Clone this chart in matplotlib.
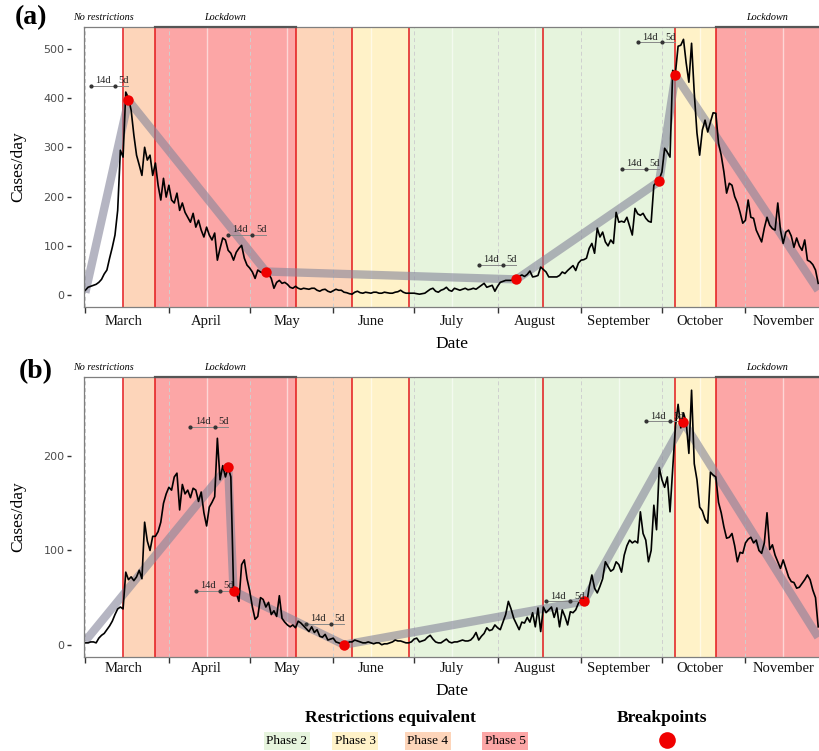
import numpy as np
import pandas as pd
import matplotlib
matplotlib.use('Agg')
import matplotlib.pyplot as plt
import matplotlib.dates as mdates
import matplotlib.transforms as mtrans

# ---------------- data ----------------
start_date = '2020-03-01'

a_cases = [
    10, 16, 18, 20, 22, 26, 32, 43, 51, 75, 97, 122, 172, 294, 280,
    412, 400, 375, 325, 284, 264, 243, 300, 274, 284, 243, 268, 223, 193, 237,
    199, 223, 193, 187, 207, 172, 187, 168, 158, 148, 166, 138, 152, 132, 118,
    138, 122, 112, 126, 71, 95, 116, 112, 91, 85, 71, 87, 95, 101, 75,
    61, 55, 47, 34, 51, 47, 45, 45, 43, 34, 14, 26, 30, 24, 26,
    22, 16, 14, 18, 14, 12, 14, 13, 12, 14, 14, 10, 8, 11, 12,
    8, 6, 9, 12, 10, 10, 6, 5, 3, 2, 6, 8, 5, 4, 6,
    5, 4, 6, 6, 4, 4, 6, 5, 4, 4, 6, 7, 10, 6, 4,
    4, 4, 4, 3, 2, 3, 4, 8, 12, 14, 8, 6, 10, 12, 16,
    10, 8, 14, 12, 10, 12, 14, 11, 12, 14, 12, 16, 20, 24, 16,
    18, 20, 8, 18, 26, 28, 30, 30, 30, 31, 32, 38, 41, 38, 42,
    49, 37, 38, 40, 57, 52, 47, 37, 37, 37, 37, 40, 47, 44, 50,
    55, 60, 50, 65, 71, 72, 75, 95, 105, 85, 136, 118, 128, 108, 100,
    112, 105, 168, 148, 150, 148, 158, 140, 122, 176, 165, 162, 166, 156, 150,
    148, 223, 229, 235, 250, 298, 290, 280, 456, 450, 505, 507, 519, 471, 432,
    511, 410, 329, 284, 335, 355, 331, 351, 370, 369, 308, 284, 250, 207, 227,
    223, 200, 187, 168, 146, 152, 193, 158, 156, 132, 120, 108, 136, 158, 142,
    135, 132, 187, 132, 105, 128, 132, 120, 97, 116, 100, 91, 112, 71, 68,
    62, 51, 24,
]

b_cases = [
    2, 2, 3, 3, 2, 7, 10, 12, 16, 20, 25, 32, 38, 40, 38,
    77, 69, 72, 68, 72, 79, 70, 130, 110, 100, 115, 115, 120, 130, 150,
    160, 167, 164, 178, 182, 143, 170, 160, 164, 156, 166, 164, 152, 162, 140,
    126, 146, 151, 157, 219, 175, 190, 178, 188, 178, 60, 55, 46, 85, 90,
    70, 57, 40, 27, 30, 50, 48, 40, 45, 32, 36, 30, 52, 28, 24,
    21, 19, 21, 18, 25, 23, 20, 17, 14, 19, 13, 16, 9, 8, 11,
    5, 6, 7, 3, 2, 1, 0, 1, 3, 3, 5, 4, 3, 2, 2,
    3, 2, 1, 2, 2, 0, 1, 1, 2, 3, 5, 4, 4, 3, 2,
    2, 3, 6, 7, 3, 4, 5, 8, 10, 6, 3, 2, 2, 4, 6,
    3, 2, 3, 3, 4, 5, 4, 4, 5, 8, 13, 5, 9, 12, 18,
    15, 16, 21, 18, 16, 24, 32, 46, 38, 28, 22, 16, 24, 23, 29,
    24, 34, 19, 39, 14, 40, 34, 37, 40, 29, 39, 19, 37, 30, 21,
    35, 34, 37, 44, 48, 46, 42, 61, 74, 60, 55, 62, 70, 88, 83,
    78, 80, 88, 85, 77, 95, 105, 111, 108, 110, 108, 141, 118, 111, 88,
    100, 148, 122, 188, 175, 167, 178, 141, 187, 231, 255, 230, 246, 236, 203,
    270, 192, 175, 146, 142, 133, 129, 183, 180, 178, 151, 140, 125, 113, 114,
    118, 105, 88, 98, 97, 108, 112, 114, 108, 111, 100, 97, 108, 140, 101,
    106, 95, 88, 81, 90, 81, 72, 67, 66, 60, 61, 65, 69, 74, 69,
    58, 50, 19,
]

# restriction periods
phase_starts = ['2020-03-15', '2020-03-27', '2020-05-18', '2020-06-08',
                '2020-06-29', '2020-10-06', '2020-10-21']
phase_ends = ['2020-03-27', '2020-05-18', '2020-06-08', '2020-06-29',
              '2020-10-06', '2020-10-21', '2020-11-30']
phase_levels = [4, 5, 4, 3, 2, 3, 5]
change_dates = ['2020-03-15', '2020-03-27', '2020-05-18', '2020-06-08',
                '2020-06-29', '2020-08-18', '2020-10-06', '2020-10-21']
lockdown_starts = ['2020-03-27', '2020-10-21']
lockdown_ends = ['2020-05-18', '2020-11-30']

# segmented fits (first and last are the ends, the rest are breakpoints)
a_fit_dates = ['2020-03-01', '2020-03-17', '2020-05-07', '2020-08-08',
               '2020-09-30', '2020-10-06', '2020-11-28']
a_fit_vals = [5, 395, 48, 32, 231, 446, 10]
a_annot_y = [424, 122, 61, 256, 513]

b_fit_dates = ['2020-03-01', '2020-04-23', '2020-04-25', '2020-06-05',
               '2020-09-02', '2020-10-09', '2020-11-28']
b_fit_vals = [4, 189, 57, 0, 46, 236, 8]
b_annot_y = [231, 57, 22, 46, 237]

phase_names = ['Phase 2', 'Phase 3', 'Phase 4', 'Phase 5']
phase_colors = {2: '#e6f4dd', 3: '#fff2c8', 4: '#fdd5ba', 5: '#fca6a6'}

# ---------------- drawing ----------------
SERIF = ['Liberation Serif', 'DejaVu Serif']
fig = plt.figure(figsize=(8.2, 7.51), dpi=100)

xmin = pd.Timestamp('2020-02-29 12:00')
xmax = pd.Timestamp('2020-11-28 16:00')


def draw_panel(ax, cases, fit_dates, fit_vals, annot_y, ylim, yticks,
               ylab_x, xlab_y, month_pad):
    dates = pd.date_range(start_date, periods=len(cases), freq='D')
    for s, e, lev in zip(phase_starts, phase_ends, phase_levels):
        ax.axvspan(pd.Timestamp(s), pd.Timestamp(e), color=phase_colors[lev],
                   lw=0, zorder=0)
    # grid lines
    month_starts = pd.date_range('2020-03-01', '2020-11-01', freq='MS')
    mids = month_starts + pd.Timedelta(days=14)
    for m in month_starts:
        ax.axvline(m, color='#cfcfcf', lw=0.7, ls=(0, (4, 3)), zorder=0.5)
    for m in mids:
        ax.axvline(m, color='white', lw=1.0, alpha=0.55, zorder=0.5)
    for c in change_dates:
        ax.axvline(pd.Timestamp(c), color='#e31a1c', lw=1.1, zorder=1)

    fd = pd.to_datetime(fit_dates)
    ax.plot(fd, fit_vals, color='#85859a', lw=6, alpha=0.6,
            solid_capstyle='butt', zorder=2)
    ax.plot(dates, cases, color='black', lw=1.2, zorder=3)
    ax.plot(fd[1:-1], fit_vals[1:-1], 'o', color='#f00000', ms=7.5,
            mec='none', zorder=4)

    for bp, yv in zip(fd[1:-1], annot_y):
        x1 = bp - pd.Timedelta(days=14)
        x2 = bp - pd.Timedelta(days=5)
        ax.plot([x1, bp], [yv, yv], color='#888888', lw=0.7, zorder=3.5)
        ax.plot([x1, x2], [yv, yv], 'o', color='#333333', ms=2, zorder=3.6)
        ax.annotate('14d', (x1 + (x2 - x1) / 2, yv), xytext=(0, 0.5),
                    textcoords='offset points', ha='center', va='bottom',
                    fontsize=7.5, family=SERIF, color='#222222', zorder=5)
        ax.annotate('5d', (x2 + (bp - x2) / 2, yv), xytext=(1.5, 0.5),
                    textcoords='offset points', ha='center', va='bottom',
                    fontsize=7.5, family=SERIF, color='#222222', zorder=5)

    ax.set_xlim(xmin, xmax)
    ax.set_ylim(*ylim)
    ax.set_yticks(yticks)
    ax.tick_params(axis='y', length=3, width=1, color='#333333',
                   labelsize=8, labelcolor='#4d4d4d', pad=2)
    ax.xaxis.set_major_locator(mdates.MonthLocator(bymonthday=1))
    ax.xaxis.set_major_formatter(plt.NullFormatter())
    ax.xaxis.set_minor_locator(mdates.MonthLocator(bymonthday=15))
    ax.xaxis.set_minor_formatter(mdates.DateFormatter('%B'))
    ax.tick_params(axis='x', which='major', length=4, width=1, color='#333333')
    ax.tick_params(axis='x', which='minor', length=0, pad=month_pad,
                   labelsize=10.5)
    for t in ax.xaxis.get_minorticklabels():
        t.set_family(SERIF)
        t.set_color('#111111')
    for sp in ax.spines.values():
        sp.set_color('#7f7f7f')
        sp.set_linewidth(0.9)
    ax.spines['right'].set_visible(False)
    # y axis (ticks + labels) sits a little away from the panel border
    ax.spines['left'].set_position(('outward', 9))
    ax.spines['left'].set_color('none')
    ax.plot([0, 0], [0, 1], transform=ax.transAxes, color='#7f7f7f',
            lw=0.9, clip_on=False, zorder=6)
    ax.set_ylabel('Cases/day', family=SERIF, fontsize=12.5)
    ax.yaxis.set_label_coords(ylab_x, 0.5)
    ax.set_xlabel('Date', family=SERIF, fontsize=12.5)
    ax.xaxis.set_label_coords(0.5, xlab_y)

    trans = mtrans.blended_transform_factory(ax.transData, ax.transAxes)
    for s, e in zip(lockdown_starts, lockdown_ends):
        ax.plot([pd.Timestamp(s), pd.Timestamp(e)], [1, 1], transform=trans,
                color='#555555', lw=1.6, clip_on=False, zorder=6)
    ax.text(xmin + (pd.Timestamp('2020-03-15') - xmin) / 2, 1.018,
            'No restrictions', transform=trans, ha='center', va='bottom',
            fontsize=7.3, style='italic', family=SERIF)
    ax.text(pd.Timestamp('2020-04-22'), 1.018, 'Lockdown', transform=trans,
            ha='center', va='bottom', fontsize=7.3, style='italic', family=SERIF)
    ax.text(pd.Timestamp('2020-11-09'), 1.018, 'Lockdown', transform=trans,
            ha='center', va='bottom', fontsize=7.3, style='italic', family=SERIF)


ax_a = fig.add_axes([84 / 820, 1 - 307 / 751, 736 / 820, 280 / 751])
draw_panel(ax_a, a_cases, a_fit_dates, a_fit_vals, a_annot_y,
           (-24, 544), [0, 100, 200, 300, 400, 500],
           (26 - 84) / 736, (307 - 336) / 280, 6)
ax_b = fig.add_axes([84 / 820, 1 - 657 / 751, 736 / 820, 280 / 751])
draw_panel(ax_b, b_cases, b_fit_dates, b_fit_vals, b_annot_y,
           (-13, 284), [0, 100, 200],
           (26 - 84) / 736, (657 - 683) / 280, 3.5)

fig.text(31 / 820, 1 - 18 / 751, '(a)', fontsize=20, fontweight='bold',
         family=SERIF, ha='center', va='center')
fig.text(36 / 820, 1 - 372 / 751, '(b)', fontsize=20, fontweight='bold',
         family=SERIF, ha='center', va='center')

# legend
fig.text(390 / 820, 1 - 718 / 751, 'Restrictions equivalent', fontsize=12.5,
         fontweight='bold', family=SERIF, ha='center', va='center')
fig.text(662 / 820, 1 - 718 / 751, 'Breakpoints', fontsize=12.5,
         fontweight='bold', family=SERIF, ha='center', va='center')
legend_x = [287, 355, 428, 505]
for name, lev, xp in zip(phase_names, [2, 3, 4, 5], legend_x):
    fig.text(xp / 820, 1 - 741 / 751, name, fontsize=9.5, family=SERIF,
             ha='center', va='center',
             bbox=dict(boxstyle='square,pad=0.2', fc=phase_colors[lev],
                       ec='none'))
fig.lines.append(plt.Line2D([667 / 820], [1 - 740 / 751], marker='o',
                            color='#f00000', ms=12, mec='none',
                            transform=fig.transFigure))

fig.savefig('out.png', dpi=100)
